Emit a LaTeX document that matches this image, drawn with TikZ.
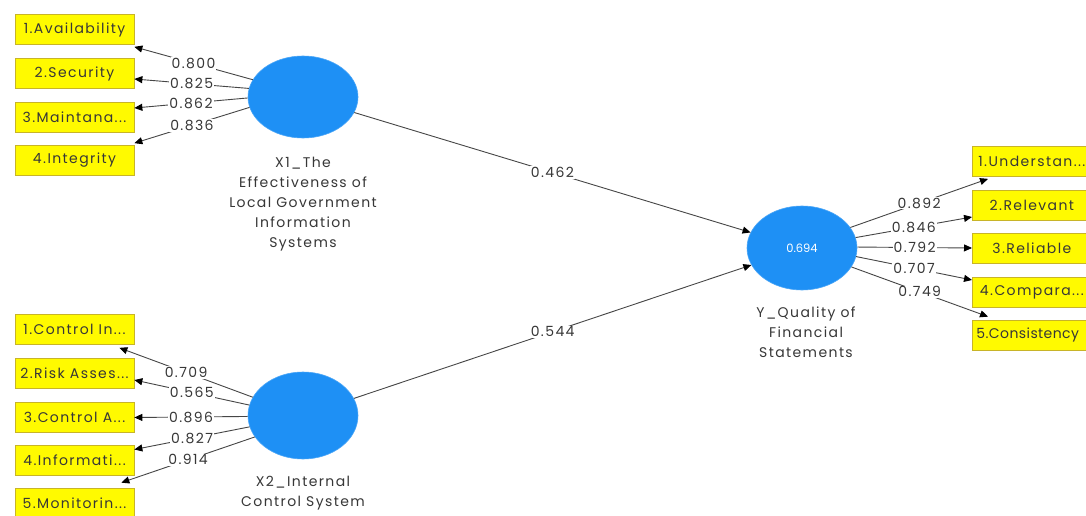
\documentclass[tikz,border=0pt]{standalone}
\usepackage{fontspec}
\setmainfont{Poppins}
\newfontfamily\widefont[LetterSpace=10]{Poppins}
\newfontfamily\tightfont[LetterSpace=3]{Poppins}
\usetikzlibrary{arrows.meta,shapes.geometric,calc}
\definecolor{latblue}{RGB}{30,144,245}
\definecolor{linegray}{RGB}{70,70,70}
\definecolor{txtgray}{RGB}{55,55,55}
\definecolor{boxyellow}{RGB}{255,250,0}
\definecolor{boxedge}{RGB}{200,180,40}
\begin{document}
\begin{tikzpicture}[x=1pt,y=-1pt,
  ind/.style={draw=boxedge, line width=0.7pt, fill=boxyellow, minimum width=119pt, minimum height=30pt, inner sep=0pt, text=txtgray, font=\widefont\fontsize{14}{15}\selectfont},
  lat/.style={ellipse, fill=latblue, draw=latblue!80!white, line width=0.6pt, minimum width=110pt, minimum height=82pt, inner sep=0pt, text=white, font=\fontsize{11.5}{13}\selectfont},
  con/.style={draw=linegray, line width=0.9pt, -{Triangle[length=8pt,width=7pt,color=black]}},
  ld/.style={fill=white, inner sep=1pt, text=txtgray, font=\widefont\fontsize{14}{15}\selectfont},
  capt/.style={align=center, anchor=north, inner sep=0pt, text=txtgray, font=\widefont\fontsize{14}{20}\selectfont}
]
\clip (0,0) rectangle (1086,516);
\fill[white] (0,0) rectangle (1086,516);

% latent variables
\node[lat] (x1) at (303,97) {};
\node[lat, minimum height=87pt] (x2) at (303,415.5) {};
\node[lat, minimum height=84pt] (y) at (802,248) {0.694};

\node[capt] (x1c) at (303,157) {X1\_The\\Effectiveness of\\Local Government\\Information\\Systems};
\node[capt] (x2c) at (303,476) {X2\_Internal\\Control System};
\node[capt] (yc) at (806,307) {Y\_Quality of\\Financial\\Statements};

% X1 indicators
\node[ind] (a1) at (74.5,29.5) {1.Availability};
\node[ind] (a2) at (74.5,73.5) {2.Security};
\node[ind] (a3) at (74.5,117) {3.Maintana...};
\node[ind] (a4) at (74.5,160.5) {4.Integrity};

% X2 indicators
\node[ind] (b1) at (74.5,329.5) {1.Control In...};
\node[ind] (b2) at (74.5,373) {2.Risk Asses...};
\node[ind] (b3) at (74.5,417.5) {3.Control A...};
\node[ind] (b4) at (74.5,460.5) {4.Informati...};
\node[ind] (b5) at (74.5,503) {5.Monitorin...};

% Y indicators
\node[ind, anchor=west] (c1) at (972,161.5) {1.Understan...};
\node[ind, anchor=west] (c2) at (972,205) {2.Relevant};
\node[ind, anchor=west] (c3) at (972,248) {3.Reliable};
\node[ind, anchor=west] (c4) at (972,292) {4.Compara...};
\node[ind, anchor=west, text width=115pt, align=left, font=\tightfont\fontsize{14}{15}\selectfont] (c5) at (972,335) {\hspace{2pt}5.Consistency};

% X1 loadings
\draw[con] (x1.161) -- node[ld]{0.800} ([yshift=-2pt]a1.south east);
\draw[con] (x1.171.6) -- node[ld]{0.825} ([yshift=-5.5pt]a2.east);
\draw[con] (x1.181) -- node[ld]{0.862} ([yshift=9pt]a3.east);
\draw[con] (x1.191.7) -- node[ld]{0.836} ([yshift=2pt]a4.north east);

% X2 loadings
\draw[con] (x2.160) -- node[ld]{0.709} ([xshift=-15pt,yshift=-3pt]b1.south east);
\draw[con] (x2.169.4) -- node[ld]{0.565} ([yshift=-7pt]b2.east);
\draw[con] (x2.181) -- node[ld]{0.896} (b3.east);
\draw[con] (x2.192.8) -- node[ld]{0.827} ([yshift=11pt]b4.east);
\draw[con] (x2.204.9) -- node[ld]{0.914} ([xshift=-13pt,yshift=5pt]b5.north east);

% Y loadings
\draw[con] (y.23.8) -- node[ld]{0.892} ([xshift=16pt,yshift=-2pt]c1.south west);
\draw[con] (y.11.7) -- node[ld]{0.846} ([yshift=-12pt]c2.west);
\draw[con] (y.1) -- node[ld]{0.792} (c3.west);
\draw[con] (y.-9.5) -- node[ld]{0.707} ([yshift=12pt]c4.west);
\draw[con] (y.-21.2) -- node[ld]{0.749} ([xshift=16pt,yshift=3pt]c5.north west);

% structural paths
\draw[con] (x1) -- node[ld]{0.462} (y);
\draw[con] (x2) -- node[ld]{0.544} (y);
\end{tikzpicture}
\end{document}
